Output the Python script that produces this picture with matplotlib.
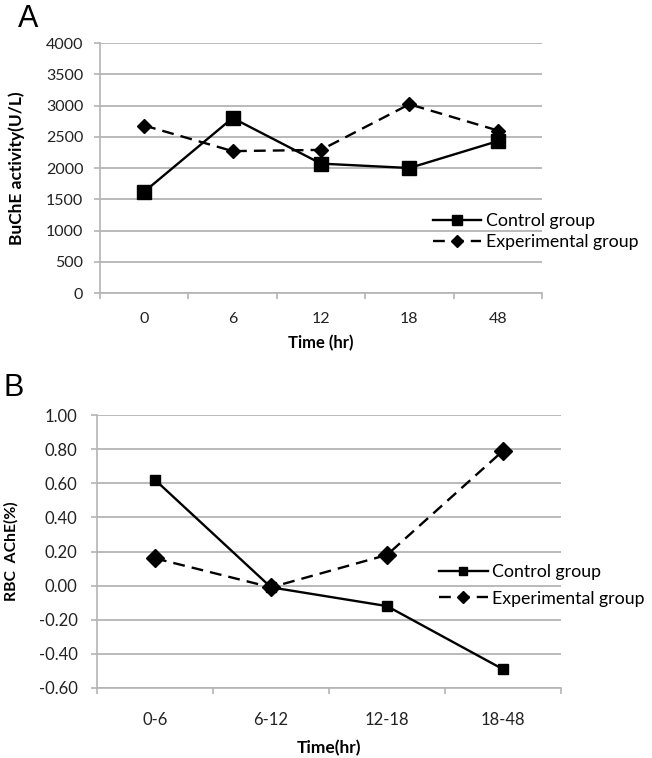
import matplotlib
matplotlib.use("Agg")
import matplotlib.pyplot as plt
import numpy as np

# Panel A data
a_categories = ["0", "6", "12", "18", "48"]
a_control = [1620, 2800, 2070, 2000, 2430]
a_experimental = [2680, 2270, 2290, 3020, 2600]
a_yticks = [0, 500, 1000, 1500, 2000, 2500, 3000, 3500, 4000]

# Panel B data
b_categories = ["0-6", "6-12", "12-18", "18-48"]
b_control = [0.62, -0.01, -0.12, -0.49]
b_experimental = [0.16, -0.01, 0.18, 0.79]
b_yticks = [-0.60, -0.40, -0.20, 0.00, 0.20, 0.40, 0.60, 0.80, 1.00]

FONT = "Lato"
plt.rcParams["font.family"] = [FONT, "DejaVu Sans"]

W, H = 652, 758
fig = plt.figure(figsize=(W / 100, H / 100), dpi=100)

GRID = "#b4b4b4"
TXT = "#222222"


def make_axes(l, r, t, b):
    return fig.add_axes([l / W, 1 - b / H, (r - l) / W, (b - t) / H])


def style(ax, cats, yticks, ylim, fmt, fs, ypad):
    n = len(cats)
    ax.set_xlim(-0.5, n - 0.5)
    ax.set_ylim(*ylim)
    ax.set_yticks(yticks)
    ax.set_yticklabels([fmt(v) for v in yticks], fontsize=fs, color=TXT)
    ax.set_xticks(range(n))
    ax.set_xticklabels(cats, fontsize=fs, color=TXT)
    ax.set_xticks(np.arange(-0.5, n, 1.0), minor=True)
    ax.tick_params(axis="x", which="major", length=0, pad=14)
    ax.tick_params(axis="x", which="minor", length=4, color=GRID, width=1.2, direction="out")
    ax.tick_params(axis="y", length=4, color=GRID, width=1.2, pad=ypad)
    for s in ["top", "right"]:
        ax.spines[s].set_visible(False)
    for s in ["left", "bottom"]:
        ax.spines[s].set_color(GRID)
        ax.spines[s].set_linewidth(1.2)
    ax.grid(axis="y", color=GRID, linewidth=1.3)
    ax.set_axisbelow(True)


DASH = (0, (5, 3))

# Panel A
axA = make_axes(100, 542, 43, 293)
xa = np.arange(len(a_categories))
axA.plot(xa, a_control, color="black", lw=1.7, marker="s", ms=10, label="Control group", clip_on=False)
axA.plot(xa, a_experimental, color="black", lw=1.7, ls=DASH, marker="D", ms=7, label="Experimental group", clip_on=False)
style(axA, a_categories, a_yticks, (0, 4000), lambda v: f"{v:d}", 11.5, 8)
axA.set_xlabel("Time (hr)", fontsize=12, fontweight="bold", labelpad=6)
axA.set_ylabel("BuChE activity(U/L)", fontsize=12.5, fontweight="bold")
axA.yaxis.set_label_coords((25 - 100) / 442, 0.5)
legA = axA.legend(loc="upper left", bbox_to_anchor=(433 / W, 1 - 213 / H), bbox_transform=fig.transFigure,
                  frameon=False, fontsize=12.8, handlelength=2.7, handletextpad=0.28, labelspacing=0.3,
                  borderaxespad=0, borderpad=0)
for h, ms in zip(legA.legend_handles, [6.5, 6]):
    h.set_markersize(ms)
fig.text(18 / W, 1 - 27 / H, "A", fontsize=22, family="Liberation Sans")

# Panel B
axB = make_axes(97, 561, 415, 688)
xb = np.arange(len(b_categories))
axB.plot(xb, b_control, color="black", lw=1.7, marker="s", ms=6.5, label="Control group", clip_on=False)
axB.plot(xb, b_experimental, color="black", lw=1.7, ls=DASH, marker="D", ms=9, label="Experimental group", clip_on=False)
style(axB, b_categories, b_yticks, (-0.6, 1.0), lambda v: f"{v:.2f}", 12, 10)
axB.tick_params(axis="x", which="major", pad=17)
axB.set_xlabel("Time(hr)", fontsize=12.5, fontweight="bold", labelpad=9)
axB.set_ylabel("RBC  AChE(%)", fontsize=11.3, fontweight="bold")
axB.yaxis.set_label_coords((19 - 97) / 464, 0.5)
legB = axB.legend(loc="upper left", bbox_to_anchor=(439 / W, 1 - 564 / H), bbox_transform=fig.transFigure,
                  frameon=False, fontsize=12.8, handlelength=2.75, handletextpad=0.22, labelspacing=0.6,
                  borderaxespad=0, borderpad=0)
for h, ms in zip(legB.legend_handles, [5.5, 6.5]):
    h.set_markersize(ms)
fig.text(4 / W, 1 - 396 / H, "B", fontsize=22, family="Liberation Sans")

fig.savefig("out.png", dpi=100, facecolor="white")
